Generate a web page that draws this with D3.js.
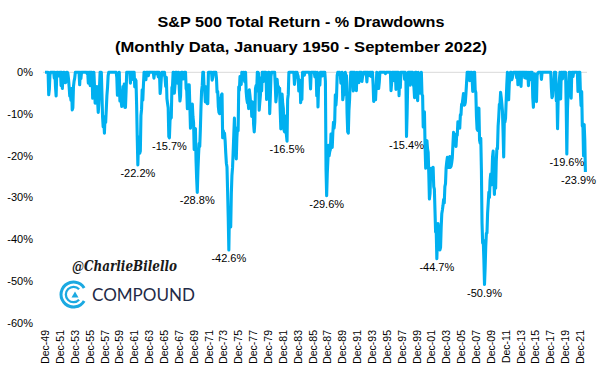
<!DOCTYPE html>
<html>
<head>
<meta charset="utf-8">
<script src="https://cdn.jsdelivr.net/npm/d3@7"></script>
<style>
  html, body { margin: 0; padding: 0; background: #fff; }
  svg { display: block; }
</style>
</head>
<body>
<svg id="chart" width="603" height="371"></svg>
<script>
// ---------------- DATA (monthly % drawdown of S&P 500 total return) ----------------
const firstMonth = "1949-12";
const dd1940s = [0]; // Dec 1949
const dd1950s = [
  0,0,0,0,0,-5.4,-4.1,-0.6,0,0,0,0,
  0,0,-1.4,0,-3.6,-5.7,0,0,0,-0.9,-0.7,0,
  0,-3.2,0,-3.9,-1.2,0,0,-1.0,-2.5,-2.2,0,0,
  -0.3,-1.6,-3.5,-5.7,-5.5,-6.7,-3.9,-9.0,-8.5,-3.4,-2.1,-1.4,
  0,0,0,0,0,0,0,-3.0,0,-1.5,0,0,
  0,0,0,0,0,0,0,-0.3,0,-2.6,0,0,
  -3.2,0,0,0,-6.2,-2.0,0,-3.4,-7.4,-6.5,-7.1,-3.4,
  -7.0,-9.6,-7.4,-3.6,0,0,0,-5.2,-10.7,-13.1,-11.4,-14.6,
  -10.6,-12.0,-8.9,-5.6,-3.7,-0.8,0,0,0,0,0,0,
  0,0,0,0,0,0,0,-1.2,-5.5,-4.2,-2.6,0
];
const dd1960s = [
  -6.9,-5.8,-6.9,-8.2,-5.5,-3.4,-5.5,-2.8,-8.4,-8.4,-4.5,0,
  0,0,0,0,0,-2.6,0,0,-1.7,0,0,0,
  -3.5,-1.7,-2.0,-7.8,-15.5,-22.2,-17.1,-15.6,-19.4,-18.9,-10.4,-8.9,
  -4.2,-6.7,-3.1,0,0,-1.8,-1.8,0,-0.8,0,-0.8,0,
  0,0,0,0,0,0,0,-1.4,0,0,-0.3,0,
  0,0,-1.1,0,-0.5,-5.1,-3.6,-1.1,0,0,-0.6,0,
  0,-1.5,-3.4,-1.2,-6.3,-7.5,-8.5,-15.4,-15.7,-11.5,-11.0,-10.9,
  -3.7,-3.2,0,0,-5.0,-3.1,0,-0.9,0,-2.6,-2.3,0,
  -4.1,-6.9,-5.7,0,0,0,-1.6,-0.2,0,0,0,-3.9,
  -4.4,-8.7,-5.3,-3.0,-3.0,-8.1,-13.4,-9.7,-11.7,-7.6,-10.6,-12.0
];
const dd1970s = [
  -18.5,-13.9,-13.5,-21.1,-25.6,-28.8,-23.7,-20.0,-17.1,-17.8,-13.6,-8.4,
  -4.4,-3.2,0,0,-3.8,-4.4,-7.1,-3.5,-3.8,-7.5,-7.5,0,
  0,0,0,0,0,-1.9,-1.3,0,0,0,0,0,
  -1.4,-4.8,-4.6,-8.2,-9.6,-9.9,-6.2,-9.3,-5.4,-5.2,-15.7,-14.0,
  -14.6,-14.6,-16.4,-19.4,-21.8,-22.7,-28.5,-34.7,-42.6,-32.7,-36.1,-37.1,
  -29.2,-24.7,-22.8,-18.9,-15.0,-11.0,-16.7,-18.2,-20.8,-15.6,-13.3,-14.0,
  -3.5,-4.3,-1.0,-1.8,-2.9,0,-0.5,-0.7,0,-1.9,-2.3,0,
  -4.7,-6.4,-7.3,-6.9,-8.7,-4.2,-5.4,-7.0,-6.9,-10.6,-7.8,-7.2,
  -12.5,-14.3,-11.9,-3.9,-3.2,-4.5,0,0,-0.3,-9.1,-7.2,-5.5,
  -1.3,-4.5,0,0,-2.2,0,0,0,0,-6.5,-2.1,-0.1
];
const dd1980s = [
  0,0,-9.9,-5.8,-1.0,0,0,0,0,0,0,-3.0,
  -7.1,-5.5,-1.7,-3.6,-3.4,-4.0,-3.8,-9.4,-13.6,-9.0,-5.2,-7.5,
  -8.6,-13.8,-14.3,-10.5,-13.6,-15.0,-16.5,-6.5,-5.3,0,0,0,
  0,0,0,0,0,0,-2.9,-1.4,0,-1.2,0,-0.5,
  -1.0,-4.5,-2.8,-1.9,-7.3,-5.3,-6.5,0,0,0,-0.7,0,
  0,0,0,0,0,0,0,-0.9,-4.0,0,0,0,
  0,0,0,-1.1,0,0,-5.6,0,-8.3,-3.0,-0.6,-3.1,
  0,0,0,-0.9,0,0,0,0,-2.2,-23.3,-29.6,-24.3,
  -21.0,-17.5,-20.0,-19.0,-18.5,-14.8,-15.0,-18.0,-14.5,-12.0,-13.4,-11.9,
  -5.4,-7.9,-5.7,-0.7,0,-0.5,0,0,-0.4,-2.6,-0.7,0
];
const dd1990s = [
  -6.6,-5.5,-2.9,-5.3,0,-0.6,-0.8,-9.9,-14.3,-14.6,-9.2,-6.7,
  -2.5,0,0,0,0,-4.5,0,0,-1.7,-0.3,-4.4,0,
  -1.7,-0.6,-2.5,0,0,-1.5,0,-2.2,-1.0,-0.6,0,0,
  0,0,0,-2.3,0,0,-0.3,0,-0.8,0,-1.0,0,
  0,-2.8,-7.0,-5.7,-4.3,-6.6,-3.4,0,-2.4,-0.2,-3.9,-2.4,
  0,0,0,0,0,0,0,0,0,-0.3,0,0,
  0,0,0,0,0,0,-4.4,-2.5,0,0,0,-2.0,
  0,0,-4.1,0,0,0,0,-5.6,-0.4,-3.7,0,0,
  0,0,0,0,-1.7,0,-1.0,-15.4,-9.8,-2.4,0,0,
  0,-3.1,0,0,-2.3,0,-3.0,-3.5,-6.1,0,0,0
];
const dd2000s = [
  -5.0,-6.8,0,-3.0,-5.0,-2.6,-4.1,0,-5.3,-5.6,-13.1,-12.7,
  -9.5,-17.8,-23.0,-17.0,-16.4,-18.4,-19.2,-24.3,-30.4,-29.1,-23.7,-23.0,
  -24.1,-25.6,-22.8,-27.4,-28.0,-33.1,-38.3,-37.9,-44.7,-39.8,-36.3,-40.1,
  -41.6,-42.6,-42.0,-37.2,-33.9,-33.0,-31.9,-30.5,-31.3,-27.4,-26.7,-22.9,
  -21.5,-20.4,-21.6,-22.8,-21.7,-20.2,-22.8,-22.5,-21.7,-20.5,-17.3,-14.4,
  -16.5,-14.8,-16.3,-17.8,-15.2,-15.1,-11.9,-12.7,-12.0,-13.4,-10.2,-10.2,
  -7.7,-7.6,-6.4,-5.1,-7.9,-7.8,-7.2,-5.1,-2.6,0,0,0,
  0,-2.0,-0.9,0,0,-1.6,-4.6,-3.3,0,0,-4.3,-4.9,
  -10.6,-13.6,-13.9,-9.7,-8.6,-16.3,-17.0,-15.8,-23.3,-36.2,-40.9,-40.3,
  -45.0,-50.9,-46.9,-41.8,-38.6,-38.5,-33.8,-31.4,-28.8,-30.0,-25.9,-24.4
];
const dd2010s = [
  -27.0,-24.8,-20.3,-18.9,-25.4,-29.3,-24.3,-27.8,-21.3,-18.3,-18.3,-12.9,
  -10.7,-7.7,-7.6,-4.8,-6.0,-7.5,-9.3,-14.3,-20.3,-11.6,-11.9,-11.0,
  -6.9,-3.0,0,-0.6,-6.6,-2.8,-1.4,0,0,-1.8,-1.3,-0.5,
  0,0,0,0,0,-1.3,0,-3.0,0,0,0,0,
  -3.4,0,0,0,0,0,-1.3,0,-1.4,0,0,-0.2,
  -3.2,0,-1.6,-0.5,0,-1.9,0,-6.1,-8.4,-0.6,-0.4,-2.0,
  -6.8,-7.0,-0.7,-0.2,0,0,0,0,0,-1.7,0,0,
  0,0,0,0,0,0,0,0,0,0,0,0,
  0,-3.7,-6.1,-5.7,-3.5,-2.9,0,0,0,-6.8,-4.9,-13.5,
  -6.5,-3.6,-1.7,0,-6.4,0,0,-1.6,0,0,0,0
];
const dd2020s = [
  0,-8.2,-19.6,-9.2,-4.9,-3.0,0,0,-3.8,-6.2,0,0,
  -1.0,0,0,0,0,0,0,0,-4.6,0,-0.7,0,
  -5.1,-8.0,-4.6,-12.9,-12.7,-20.0,-12.5,-16.2,-23.9
];

const yTicks = [0, -10, -20, -30, -40, -50, -60];
const xTickLabels = [
  "Dec-49","Dec-51","Dec-53","Dec-55","Dec-57","Dec-59","Dec-61","Dec-63","Dec-65",
  "Dec-67","Dec-69","Dec-71","Dec-73","Dec-75","Dec-77","Dec-79","Dec-81","Dec-83",
  "Dec-85","Dec-87","Dec-89","Dec-91","Dec-93","Dec-95","Dec-97","Dec-99","Dec-01",
  "Dec-03","Dec-05","Dec-07","Dec-09","Dec-11","Dec-13","Dec-15","Dec-17","Dec-19","Dec-21"
];
const labelledMonths = ["1962-06","1966-09","1970-06","1974-09","1982-07","1987-11",
                        "1998-08","2002-09","2009-02","2020-03","2022-09"];

const titleLines = ["S&P 500 Total Return - % Drawdowns",
                    "(Monthly Data, January 1950 - September 2022)"];

// ---------------- BUILD ----------------
const values = [].concat(dd1940s, dd1950s, dd1960s, dd1970s, dd1980s, dd1990s, dd2000s, dd2010s, dd2020s);
const parseMonth = d3.timeParse("%Y-%m");
const start = parseMonth(firstMonth);
const series = values.map((v, i) => ({ date: d3.timeMonth.offset(start, i), v, i }));
const fmtKey = d3.timeFormat("%Y-%m");
const byKey = new Map(series.map(d => [fmtKey(d.date), d]));

const svg = d3.select("#chart");
svg.append("rect").attr("width", 603).attr("height", 371).attr("fill", "#fff");

const x = d3.scaleLinear().domain([0, series.length - 1]).range([45, 585.4]);
const y = d3.scaleLinear().domain([-60, 0]).range([322.5, 72.3]);

// title
const title = svg.append("g")
  .attr("font-family", "'Liberation Sans', Arial, sans-serif")
  .attr("font-weight", "bold").attr("fill", "#000").attr("text-anchor", "middle");
title.append("text").attr("x", 301).attr("y", 27).attr("font-size", 15.5)
  .attr("textLength", 287).attr("lengthAdjust", "spacingAndGlyphs").text(titleLines[0]);
title.append("text").attr("x", 301).attr("y", 52).attr("font-size", 15.5)
  .attr("textLength", 372).attr("lengthAdjust", "spacingAndGlyphs").text(titleLines[1]);

// y axis labels
const yAxis = d3.axisLeft(y).tickValues(yTicks).tickSize(0).tickPadding(0)
  .tickFormat(d => d + "%");
svg.append("g").attr("transform", "translate(33,0)").call(yAxis)
  .call(g => g.select(".domain").remove())
  .call(g => g.selectAll("text").attr("font-family", "'Liberation Sans', Arial, sans-serif")
        .attr("font-size", 11).attr("fill", "#000"));

// baseline (0%)
svg.append("line").attr("x1", 43).attr("x2", 587).attr("y1", y(0)).attr("y2", y(0))
  .attr("stroke", "#d9d9d9").attr("stroke-width", 1);

// x tick labels (every 24 months)
const tickIdx = xTickLabels.map((_, k) => k * 24);
const xAxis = d3.axisBottom(x).tickValues(tickIdx).tickSize(0).tickPadding(0)
  .tickFormat((d, k) => xTickLabels[k]);
svg.append("g").attr("transform", "translate(0,330)").call(xAxis)
  .call(g => g.select(".domain").remove())
  .call(g => g.selectAll("text")
    .attr("font-family", "'Liberation Sans', Arial, sans-serif")
    .attr("font-size", 10.5).attr("fill", "#000")
    .attr("transform", "rotate(-90)")
    .attr("text-anchor", "end").attr("x", 0).attr("y", 0).attr("dy", "0.35em"));

// line
const line = d3.line().x(d => x(d.i)).y(d => y(d.v)).curve(d3.curveLinear);
svg.append("path").datum(series).attr("d", line)
  .attr("fill", "none").attr("stroke", "#00b0f0").attr("stroke-width", 3.1)
  .attr("stroke-linejoin", "round");

// data labels
const lbl = svg.append("g").attr("font-family", "'Liberation Sans', Arial, sans-serif")
  .attr("font-size", 11).attr("fill", "#000").attr("text-anchor", "middle");
labelledMonths.forEach(k => {
  const d = byKey.get(k);
  if (!d) return;
  const txt = d.v.toFixed(1) + "%";
  let cx = x(d.i);
  cx = Math.min(cx, 596 - 17.5);
  lbl.append("text").attr("x", cx).attr("y", y(d.v) + 12).text(txt);
});

// watermark
svg.append("text").attr("x", 72).attr("y", 271)
  .attr("font-family", "'DejaVu Serif', serif").attr("font-style", "italic").attr("font-weight", "bold")
  .attr("font-size", 14).attr("fill", "#1a1a1a")
  .attr("textLength", 105).attr("lengthAdjust", "spacingAndGlyphs").text("@CharlieBilello");

const logo = svg.append("g").attr("transform", "translate(73.5,294.5)");
const outer = d3.arc().innerRadius(11).outerRadius(14).startAngle(Math.PI / 2 + 0.55).endAngle(Math.PI / 2 + 2 * Math.PI - 0.55);
const inner = d3.arc().innerRadius(6.5).outerRadius(8.8).startAngle(Math.PI / 2 + 0.75).endAngle(Math.PI / 2 + 2 * Math.PI - 0.75);
logo.append("path").attr("d", outer()).attr("fill", "#1ba9e1");
logo.append("path").attr("d", inner()).attr("fill", "#1ba9e1");
logo.append("path").attr("d", "M1.5,-3 L5,3 L-2,3 Z").attr("fill", "#1ba9e1");

svg.append("text").attr("x", 92).attr("y", 300.5)
  .attr("font-family", "Lato, 'Open Sans', sans-serif").attr("font-size", 16.5)
  .attr("fill", "#1f2b47").attr("textLength", 103).attr("lengthAdjust", "spacingAndGlyphs")
  .text("COMPOUND");
</script>
</body>
</html>
